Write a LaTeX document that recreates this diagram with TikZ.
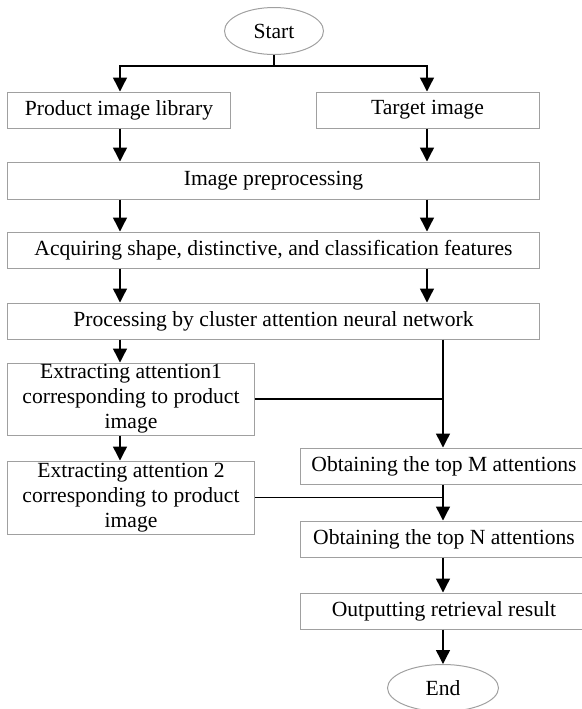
\documentclass[tikz,border=0pt]{standalone}
\usepackage{fontspec}
\setmainfont{Liberation Serif}
\usetikzlibrary{arrows.meta,shapes.geometric}
\definecolor{edgegray}{RGB}{160,160,160}
\begin{document}
\begin{tikzpicture}[x=0.5pt,y=-0.5pt]
	\tikzstyle{every node}+=[inner sep=0pt, font=\fontsize{10.8}{12.5}\selectfont]
	\tikzstyle{box}=[draw=edgegray, line width=0.5pt, rectangle, minimum height=18pt, align=center]
	\tikzstyle{term}=[draw=edgegray, line width=0.5pt, ellipse, minimum height=23.5pt]
	\tikzstyle{ln}=[black, line width=0.7pt]
	\tikzstyle{arr}=[ln, -{Triangle[length=7pt,width=7pt]}]
	\useasboundingbox (0,0) rectangle (582,709);
	% terminals
	\node [term, minimum width=49.5pt] (start) at (274,31) {Start};
	\node [term, minimum width=55.5pt] (end) at (443,688) {End};
	% left and right column
	\node [box, minimum width=111pt] (prod) at (119,110) {Product image library};
	\node [box, minimum width=111.5pt] (target) at (427.5,110) {Target image};
	\node [box, minimum width=265.5pt, minimum height=18.5pt] (pre) at (273.5,180.5) {Image preprocessing};
	\node [box, minimum width=265.5pt] (acq) at (273.5,250) {Acquiring shape, distinctive, and classification features};
	\node [box, minimum width=265.5pt] (proc) at (273.5,321) {Processing by cluster attention neural network};
	\node [box, minimum width=123pt, minimum height=36pt] (ext1) at (131,399) {Extracting attention1\\corresponding to product\\image};
	\node [box, minimum width=123pt, minimum height=36.5pt] (ext2) at (131,497.5) {Extracting attention 2\\corresponding to product\\image};
	\node [box, minimum width=144pt] (topm) at (444,466) {Obtaining the top M attentions};
	\node [box, minimum width=144pt] (topn) at (444,539) {Obtaining the top N attentions};
	\node [box, minimum width=144pt] (out) at (444,611) {Outputting retrieval result};
	\coordinate (split) at (274,66);
	\coordinate (lcol) at (120,0);
	\coordinate (rcol) at (427,0);
	\coordinate (mcol) at (443,0);
	% connectors
	\draw [ln] (start) -- (split);
	\draw [arr] (split) -| (prod.north -| lcol);
	\draw [arr] (split) -| (target.north -| rcol);
	\draw [arr] (prod.south -| lcol) -- (pre.north -| lcol);
	\draw [arr] (target.south -| rcol) -- (pre.north -| rcol);
	\draw [arr] (pre.south -| lcol) -- (acq.north -| lcol);
	\draw [arr] (pre.south -| rcol) -- (acq.north -| rcol);
	\draw [arr] (acq.south -| lcol) -- (proc.north -| lcol);
	\draw [arr] (acq.south -| rcol) -- (proc.north -| rcol);
	\draw [arr] (proc.south -| lcol) -- (ext1.north -| lcol);
	\draw [arr] (proc.south -| mcol) -- (topm.north -| mcol);
	\draw [ln] (ext1.east) -- (ext1.east -| mcol);
	\draw [arr] (ext1.south -| lcol) -- (ext2.north -| lcol);
	\draw [arr] (topm.south -| mcol) -- (topn.north -| mcol);
	\draw [ln] (ext2.east) -- (ext2.east -| mcol);
	\draw [arr] (topn.south -| mcol) -- (out.north -| mcol);
	\draw [arr] (out.south -| mcol) -- (end);
\end{tikzpicture}
\end{document}
